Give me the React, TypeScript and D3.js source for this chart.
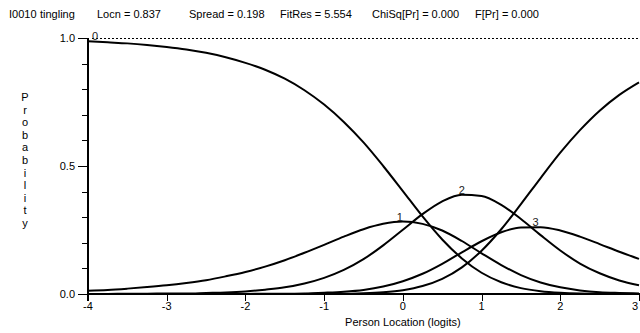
import React, { useEffect, useRef } from "react";
import * as d3 from "d3";

// person location grid (logits)
const theta = [
  -4, -3.75, -3.5, -3.25, -3, -2.75, -2.5, -2.25, -2, -1.75, -1.5, -1.25, -1, -0.75,
  -0.5, -0.25, 0, 0.25, 0.5, 0.75, 1, 1.25, 1.5, 1.75, 2, 2.25, 2.5, 2.75, 3,
];

// category probability curves
const cat0 = [
  0.987, 0.983, 0.979, 0.973, 0.965, 0.955, 0.942, 0.925, 0.903, 0.876, 0.841, 0.796, 0.74,
  0.672, 0.592, 0.5, 0.402, 0.303, 0.213, 0.139, 0.083, 0.046, 0.023, 0.011, 0.005, 0.002,
  0.001, 0.0, 0.0,
];
const cat1 = [
  0.013, 0.016, 0.021, 0.027, 0.034, 0.043, 0.054, 0.069, 0.086, 0.107, 0.132, 0.161, 0.192,
  0.224, 0.253, 0.274, 0.283, 0.274, 0.248, 0.207, 0.159, 0.113, 0.074, 0.045, 0.026, 0.014,
  0.007, 0.004, 0.002,
];
const cat2 = [
  0.0, 0.0, 0.001, 0.001, 0.002, 0.002, 0.004, 0.006, 0.01, 0.017, 0.026, 0.041, 0.063, 0.094,
  0.136, 0.19, 0.251, 0.312, 0.362, 0.388, 0.383, 0.348, 0.293, 0.23, 0.17, 0.119, 0.081,
  0.053, 0.034,
];
const cat3 = [
  0, 0, 0, 0, 0, 0, 0, 0, 0, 0.001, 0.001, 0.002, 0.005, 0.009, 0.016, 0.029, 0.05, 0.079,
  0.118, 0.163, 0.206, 0.241, 0.26, 0.261, 0.248, 0.224, 0.195, 0.165, 0.137,
];
const cat4 = [
  0, 0, 0, 0, 0, 0, 0, 0, 0, 0, 0, 0, 0.001, 0.001, 0.003, 0.007, 0.015, 0.031, 0.059, 0.104,
  0.169, 0.253, 0.351, 0.453, 0.552, 0.64, 0.716, 0.778, 0.827,
];

const categories = ["0", "1", "2", "3", "4"];
const series = [cat0, cat1, cat2, cat3, cat4];

const titleParts = [
  "I0010",
  "tingling",
  "Locn = 0.837",
  "Spread = 0.198",
  "FitRes = 5.554",
  "ChiSq[Pr] = 0.000",
  "F[Pr] = 0.000",
];

const xTicks = [-4, -3, -2, -1, 0, 1, 2, 3];
const yMajorTicks = [0, 0.5, 1];
const yMinorTicks = [0.1, 0.2, 0.3, 0.4, 0.6, 0.7, 0.8, 0.9];
const yAxisTitle = "Probability";
const xAxisTitle = "Person Location (logits)";

const FONT = "'Liberation Sans', Arial, sans-serif";

const App = () => {
  const ref = useRef<SVGSVGElement>(null);

  useEffect(() => {
    const width = 640;
    const height = 333;
    const margin = { top: 38, right: 1, bottom: 39, left: 88 };

    const svg = d3.select(ref.current);
    svg.selectAll("*").remove();

    const x = d3
      .scaleLinear()
      .domain([-4, 3])
      .range([margin.left, width - margin.right]);
    const y = d3
      .scaleLinear()
      .domain([0, 1])
      .range([height - margin.bottom, margin.top]);

    svg.append("rect").attr("width", width).attr("height", height).attr("fill", "#fff");

    // title line, fields spaced out like the original
    const titleX = [9, 40, 97, 189, 280, 372, 475];
    svg
      .append("g")
      .selectAll("text")
      .data(titleParts)
      .enter()
      .append("text")
      .attr("x", (d, i) => titleX[i])
      .attr("y", 18)
      .attr("font-family", FONT)
      .attr("font-size", 11)
      .text((d) => d);

    // dashed line at p = 1
    svg
      .append("line")
      .attr("x1", x(-4) + 4)
      .attr("x2", width)
      .attr("y1", y(1) + 0.5)
      .attr("y2", y(1) + 0.5)
      .attr("stroke", "#000")
      .attr("stroke-width", 1)
      .attr("stroke-dasharray", "2,2")
      .attr("shape-rendering", "crispEdges");

    // y axis
    const yAxis = svg.append("g").attr("shape-rendering", "crispEdges");
    yAxis
      .append("line")
      .attr("x1", x(-4))
      .attr("x2", x(-4))
      .attr("y1", y(1))
      .attr("y2", y(0) + 7)
      .attr("stroke", "#000")
      .attr("stroke-width", 2);
    yAxis
      .selectAll(".major")
      .data(yMajorTicks)
      .enter()
      .append("line")
      .attr("x1", x(-4) - 10)
      .attr("x2", x(-4))
      .attr("y1", (d) => Math.round(y(d)) + 0.5)
      .attr("y2", (d) => Math.round(y(d)) + 0.5)
      .attr("stroke", "#000");
    yAxis
      .selectAll(".minor")
      .data(yMinorTicks)
      .enter()
      .append("line")
      .attr("x1", x(-4) - 6)
      .attr("x2", x(-4))
      .attr("y1", (d) => Math.round(y(d)) + 0.5)
      .attr("y2", (d) => Math.round(y(d)) + 0.5)
      .attr("stroke", "#000");
    yAxis
      .selectAll("text")
      .data(yMajorTicks)
      .enter()
      .append("text")
      .attr("x", x(-4) - 13)
      .attr("y", (d) => y(d) + 4)
      .attr("text-anchor", "end")
      .attr("font-family", FONT)
      .attr("font-size", 11)
      .text((d) => d3.format(".1f")(d));

    // vertical axis title, one letter per row
    svg
      .append("g")
      .selectAll("text")
      .data(yAxisTitle.split(""))
      .enter()
      .append("text")
      .attr("x", 25)
      .attr("y", (d, i) => 101 + i * 12.6)
      .attr("text-anchor", "middle")
      .attr("font-family", FONT)
      .attr("font-size", 11)
      .text((d) => d);

    // x axis
    const xAxis = svg.append("g").attr("shape-rendering", "crispEdges");
    xAxis
      .append("line")
      .attr("x1", x(-4))
      .attr("x2", width)
      .attr("y1", y(0))
      .attr("y2", y(0))
      .attr("stroke", "#000")
      .attr("stroke-width", 2);
    xAxis
      .selectAll(".tick")
      .data(xTicks)
      .enter()
      .append("line")
      .attr("x1", (d) => Math.round(x(d)) + 0.5)
      .attr("x2", (d) => Math.round(x(d)) + 0.5)
      .attr("y1", y(0))
      .attr("y2", y(0) + 7)
      .attr("stroke", "#000");
    // last label sits on the window edge, nudge it in so it stays whole
    xAxis
      .selectAll("text")
      .data(xTicks)
      .enter()
      .append("text")
      .attr("x", (d) => Math.min(x(d), width - 5))
      .attr("y", y(0) + 16)
      .attr("text-anchor", "middle")
      .attr("font-family", FONT)
      .attr("font-size", 11)
      .text((d) => String(d));
    svg
      .append("text")
      .attr("x", x(0))
      .attr("y", 326)
      .attr("text-anchor", "middle")
      .attr("font-family", FONT)
      .attr("font-size", 11)
      .text(xAxisTitle);

    // curves
    const line = d3
      .line<number>()
      .x((d, i) => x(theta[i]))
      .y((d) => y(d))
      .curve(d3.curveMonotoneX);

    svg
      .append("g")
      .selectAll("path")
      .data(series)
      .enter()
      .append("path")
      .attr("d", (d) => line(d))
      .attr("fill", "none")
      .attr("stroke", "#000")
      .attr("stroke-width", 2);

    // category labels at each curve's peak (the last one peaks off the right edge)
    const labelDx = [7, -3, 0, -5];
    svg
      .append("g")
      .selectAll("text")
      .data(series.slice(0, 4))
      .enter()
      .append("text")
      .attr("x", (d, i) => x(theta[d3.maxIndex(d)]) + labelDx[i])
      .attr("y", (d) => y(d3.max(d) as number) - 1)
      .attr("text-anchor", "middle")
      .attr("font-family", FONT)
      .attr("font-size", 11)
      .attr("fill", "#222")
      .text((d, i) => categories[i]);
  }, []);

  return (
    <svg
      ref={ref}
      width={640}
      height={333}
      style={{ display: "block", position: "absolute", left: 0, top: 0 }}
    />
  );
};

export default App;
